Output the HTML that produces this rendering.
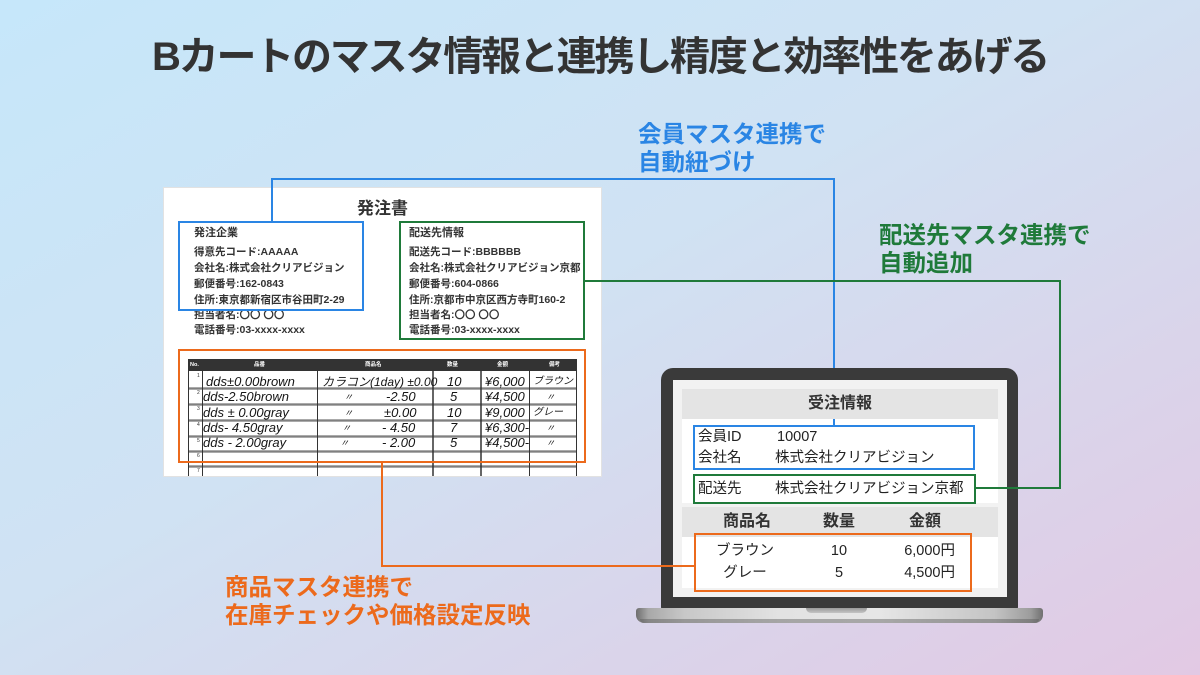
<!DOCTYPE html>
<html><head><meta charset="utf-8">
<style>
*{margin:0;padding:0;box-sizing:border-box}
html,body{width:1200px;height:675px;overflow:hidden}
body{position:relative;font-family:"Liberation Sans","Noto Sans CJK JP",sans-serif;background:linear-gradient(to bottom right,#c6e7fa 0%,#d0e2f3 45%,#dad4ea 75%,#e2c9e4 100%);color:#333}
.a{position:absolute;white-space:nowrap}
.title{left:0;top:36px;width:1200px;text-align:center;font-size:40px;line-height:42px;font-weight:bold;color:#333;letter-spacing:-2.2px}
.lbl{font-size:23.5px;font-weight:bold;line-height:28px}
.paper{left:163px;top:187px;width:439px;height:290px;background:#fff;border:1px solid #e2e2e2}
.pt{font-size:10.5px;font-weight:bold;line-height:14px;color:#333}
.hw{font-family:"Liberation Sans","Noto Sans CJK JP",sans-serif;font-style:italic;font-size:13px;line-height:14px;color:#151515}
.th{font-size:5.5px;color:#fff;line-height:12px;font-weight:bold}
.rn{font-size:5px;color:#333;line-height:6px}
.lt{font-size:14.5px;line-height:18px;color:#222}
.lh{font-size:16px;font-weight:bold;line-height:20px;color:#333}
</style></head><body>

<div class="a title">Bカートのマスタ情報と連携し精度と効率性をあげる</div>

<div class="a lbl" style="left:638px;top:120px;color:#2a85e4">会員マスタ連携で<br>自動紐づけ</div>
<div class="a lbl" style="left:879px;top:221px;color:#1f7a3a">配送先マスタ連携で<br>自動追加</div>
<div class="a lbl" style="left:225px;top:573px;color:#ec6a1c">商品マスタ連携で<br>在庫チェックや価格設定反映</div>

<!-- paper -->
<div class="a paper"></div>
<div class="a" style="left:357px;top:199px;font-size:17px;font-weight:bold;line-height:20px;color:#333">発注書</div>

<div class="a pt" style="left:194px;top:226px;font-size:11px">発注企業</div>
<div class="a pt" style="left:194px;top:245px">得意先コード:AAAAA</div>
<div class="a pt" style="left:194px;top:261px">会社名:株式会社クリアビジョン</div>
<div class="a pt" style="left:194px;top:277px">郵便番号:162-0843</div>
<div class="a pt" style="left:194px;top:293px">住所:東京都新宿区市谷田町2-29</div>
<div class="a pt" style="left:194px;top:308px">担当者名:〇〇 〇〇</div>
<div class="a pt" style="left:194px;top:323px">電話番号:03-xxxx-xxxx</div>

<div class="a pt" style="left:409px;top:226px;font-size:11px">配送先情報</div>
<div class="a pt" style="left:409px;top:245px">配送先コード:BBBBBB</div>
<div class="a pt" style="left:409px;top:261px">会社名:株式会社クリアビジョン京都</div>
<div class="a pt" style="left:409px;top:277px">郵便番号:604-0866</div>
<div class="a pt" style="left:409px;top:293px">住所:京都市中京区西方寺町160-2</div>
<div class="a pt" style="left:409px;top:308px">担当者名:〇〇 〇〇</div>
<div class="a pt" style="left:409px;top:323px">電話番号:03-xxxx-xxxx</div>

<!-- table -->
<svg class="a" style="left:0;top:0" width="1200" height="675">
  <rect x="188" y="359" width="389" height="12" fill="#333"/>
  <g stroke="#aaa" stroke-width="2">
    <line x1="188" y1="389" x2="577" y2="389"/>
    <line x1="188" y1="405" x2="577" y2="405"/>
    <line x1="188" y1="421" x2="577" y2="421"/>
    <line x1="188" y1="437" x2="577" y2="437"/>
    <line x1="188" y1="452" x2="577" y2="452"/>
    <line x1="188" y1="467" x2="577" y2="467"/>
  </g>
  <g stroke="#555" stroke-width="1">
    <line x1="188" y1="388" x2="577" y2="388"/>
    <line x1="188" y1="404" x2="577" y2="404"/>
    <line x1="188" y1="420" x2="577" y2="420"/>
    <line x1="188" y1="436" x2="577" y2="436"/>
    <line x1="188" y1="451" x2="577" y2="451"/>
    <line x1="188" y1="466" x2="577" y2="466"/>
  </g>
  <g stroke="#333" stroke-width="1">
    <line x1="188.5" y1="359" x2="188.5" y2="476"/>
    <line x1="202.5" y1="371" x2="202.5" y2="476"/>
    <line x1="317.5" y1="371" x2="317.5" y2="476"/>
    <line x1="433" y1="371" x2="433" y2="476" stroke-width="1.5"/>
    <line x1="481" y1="371" x2="481" y2="476" stroke-width="1.5"/>
    <line x1="529.5" y1="371" x2="529.5" y2="476"/>
    <line x1="576.5" y1="359" x2="576.5" y2="476"/>
  </g>
</svg>
<div class="a th" style="left:190px;top:359px">No.</div>
<div class="a th" style="left:254px;top:359px">品番</div>
<div class="a th" style="left:365px;top:359px">商品名</div>
<div class="a th" style="left:447px;top:359px">数量</div>
<div class="a th" style="left:497px;top:359px">金額</div>
<div class="a th" style="left:549px;top:359px">備考</div>

<div class="a rn" style="left:197px;top:373px">1</div>
<div class="a rn" style="left:197px;top:390px">2</div>
<div class="a rn" style="left:197px;top:406px">3</div>
<div class="a rn" style="left:197px;top:422px">4</div>
<div class="a rn" style="left:197px;top:438px">5</div>
<div class="a rn" style="left:197px;top:453px">6</div>
<div class="a rn" style="left:197px;top:468px">7</div>

<div class="a hw" style="left:206px;top:375px">dds±0.00brown</div>
<div class="a hw" style="left:322px;top:375px;font-size:12px">カラコン(1day) ±0.00</div>
<div class="a hw" style="left:447px;top:375px">10</div>
<div class="a hw" style="left:485px;top:375px">¥6,000</div>
<div class="a hw" style="left:533px;top:375px;font-size:10px">ブラウン</div>

<div class="a hw" style="left:203px;top:390px">dds-2.50brown</div>
<div class="a hw" style="left:344px;top:390px;font-size:9px">〃</div>
<div class="a hw" style="left:386px;top:390px">-2.50</div>
<div class="a hw" style="left:450px;top:390px">5</div>
<div class="a hw" style="left:485px;top:390px">¥4,500</div>
<div class="a hw" style="left:546px;top:390px;font-size:9px">〃</div>

<div class="a hw" style="left:203px;top:406px">dds ± 0.00gray</div>
<div class="a hw" style="left:344px;top:406px;font-size:9px">〃</div>
<div class="a hw" style="left:384px;top:406px">±0.00</div>
<div class="a hw" style="left:447px;top:406px">10</div>
<div class="a hw" style="left:485px;top:406px">¥9,000</div>
<div class="a hw" style="left:533px;top:406px;font-size:10px">グレー</div>

<div class="a hw" style="left:203px;top:421px">dds- 4.50gray</div>
<div class="a hw" style="left:342px;top:421px;font-size:9px">〃</div>
<div class="a hw" style="left:382px;top:421px">- 4.50</div>
<div class="a hw" style="left:450px;top:421px">7</div>
<div class="a hw" style="left:485px;top:421px">¥6,300-</div>
<div class="a hw" style="left:546px;top:421px;font-size:9px">〃</div>

<div class="a hw" style="left:203px;top:436px">dds - 2.00gray</div>
<div class="a hw" style="left:340px;top:436px;font-size:9px">〃</div>
<div class="a hw" style="left:382px;top:436px">- 2.00</div>
<div class="a hw" style="left:450px;top:436px">5</div>
<div class="a hw" style="left:485px;top:436px">¥4,500-</div>
<div class="a hw" style="left:546px;top:436px;font-size:9px">〃</div>

<!-- connectors (under laptop) -->
<svg class="a" style="left:0;top:0" width="1200" height="675">
  <polyline points="272,221 272,179 834,179 834,425" fill="none" stroke="#2a85e4" stroke-width="2"/>
  <polyline points="584,281 1060,281 1060,488 975,488" fill="none" stroke="#1f7a3a" stroke-width="2"/>
  <polyline points="382,462 382,566 694,566" fill="none" stroke="#ec6a1c" stroke-width="2"/>
  <rect x="179" y="222" width="184" height="88" fill="none" stroke="#2a85e4" stroke-width="2"/>
  <rect x="400" y="222" width="184" height="117" fill="none" stroke="#1f7a3a" stroke-width="2"/>
  <rect x="179" y="350" width="406" height="112" fill="none" stroke="#ec6a1c" stroke-width="2"/>
</svg>

<!-- laptop -->
<div class="a" style="left:661px;top:368px;width:357px;height:241px;background:#3a3a3a;border-radius:12px 12px 2px 2px"></div>
<div class="a" style="left:673px;top:380px;width:334px;height:217px;background:#f2f2f2"></div>
<div class="a" style="left:682px;top:389px;width:316px;height:30px;background:#e4e4e4"></div>
<div class="a" style="left:682px;top:419px;width:316px;height:84px;background:#fff"></div>
<div class="a" style="left:682px;top:507px;width:316px;height:30px;background:#e4e4e4"></div>
<div class="a" style="left:682px;top:537px;width:316px;height:51px;background:#fff"></div>
<div class="a" style="left:636px;top:608px;width:407px;height:15px;border-radius:3px 3px 8px 8px;background:linear-gradient(to right,#6e6e6e 0%,#a8a8a8 3%,#c8c8c8 12%,#e2e2e2 35%,#e6e6e6 60%,#c4c4c4 88%,#9c9c9c 97%,#707070 100%)"></div>
<div class="a" style="left:640px;top:619px;width:399px;height:4px;border-radius:0 0 6px 6px;background:rgba(90,90,90,0.45)"></div>
<div class="a" style="left:806px;top:608px;width:61px;height:5px;background:linear-gradient(#9a9a9a,#c4c4c4);border-radius:0 0 5px 5px"></div>

<div class="a lh" style="left:682px;top:394px;width:316px;text-align:center">受注情報</div>
<div class="a lt" style="left:698px;top:428px">会員ID</div>
<div class="a lt" style="left:777px;top:428px">10007</div>
<div class="a lt" style="left:698px;top:449px">会社名</div>
<div class="a lt" style="left:775px;top:449px">株式会社クリアビジョン</div>
<div class="a lt" style="left:698px;top:480px">配送先</div>
<div class="a lt" style="left:775px;top:480px">株式会社クリアビジョン京都</div>

<div class="a lh" style="left:697px;top:512px;width:100px;text-align:center">商品名</div>
<div class="a lh" style="left:789px;top:512px;width:100px;text-align:center">数量</div>
<div class="a lh" style="left:875px;top:512px;width:100px;text-align:center">金額</div>

<div class="a lt" style="left:695px;top:542px;width:100px;text-align:center">ブラウン</div>
<div class="a lt" style="left:789px;top:542px;width:100px;text-align:center">10</div>
<div class="a lt" style="left:855px;top:542px;width:100px;text-align:right">6,000円</div>
<div class="a lt" style="left:695px;top:564px;width:100px;text-align:center">グレー</div>
<div class="a lt" style="left:789px;top:564px;width:100px;text-align:center">5</div>
<div class="a lt" style="left:855px;top:564px;width:100px;text-align:right">4,500円</div>

<!-- top connectors/boxes -->
<svg class="a" style="left:0;top:0" width="1200" height="675">
  <line x1="834" y1="419" x2="834" y2="425" stroke="#2a85e4" stroke-width="2"/>
  <line x1="655" y1="566" x2="694" y2="566" stroke="#ec6a1c" stroke-width="2"/>
  <line x1="975" y1="488" x2="1030" y2="488" stroke="#1f7a3a" stroke-width="2"/>
  <rect x="694" y="426" width="280" height="43" fill="none" stroke="#2a85e4" stroke-width="2"/>
  <rect x="694" y="475" width="281" height="28" fill="none" stroke="#1f7a3a" stroke-width="2"/>
  <rect x="695" y="534" width="276" height="57" fill="none" stroke="#ec6a1c" stroke-width="2"/>
</svg>

</body></html>
